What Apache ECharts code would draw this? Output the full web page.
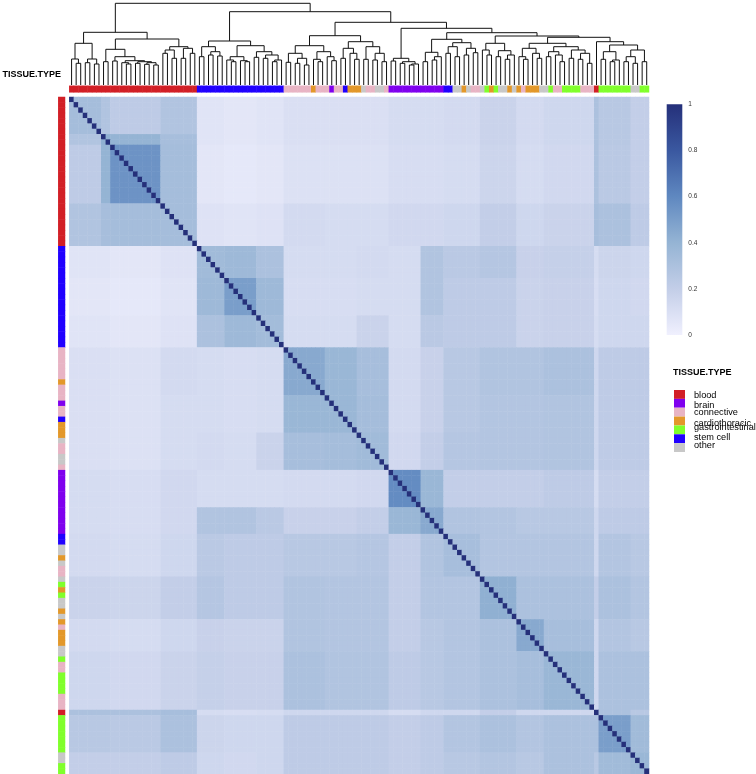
<!DOCTYPE html>
<html><head><meta charset="utf-8">
<script src="https://cdn.jsdelivr.net/npm/echarts@6.0.0/dist/echarts.min.js"></script>
<style>html,body{margin:0;padding:0;background:#fff}#c{width:756px;height:774px}</style>
</head><body><div id="c"></div>
<script>
// ---------------- data ----------------
const tissueTypes = ['blood','brain','connective','cardiothoracic','gastrointestinal','stem cell','other'];
const tissueColors = ['#d21f26','#7f00ee','#e8b4c4','#e3982a','#80ff2b','#2000ff','#c8c8c8'];
// tissue of each sample in clustered order, as runs [tissueIndex, count]
const sampleRuns = [[0,28],[5,19],[2,6],[3,1],[2,3],[1,1],[2,2],[5,1],[3,3],[6,1],[2,2],[6,2],[2,1],
  [1,12],[5,2],[6,2],[3,1],[6,1],[2,2],[6,1],[4,1],[3,1],[4,1],[6,2],[3,1],[6,1],[3,1],[2,1],[3,3],
  [6,2],[4,1],[2,2],[4,4],[2,3],[0,1],[4,7],[6,2],[4,2]];
// cluster blocks (first sample index of each block) and block-level similarity
const blockStarts = [0,7,9,20,28,34,41,47,56,63,70,77,82,90,98,104,115,116,123];
const blockSim = [
 [0.33,0.28,0.22,0.28,0.07,0.06,0.07,0.10,0.10,0.10,0.12,0.12,0.13,0.17,0.13,0.15,0.30,0.25,0.20],
 [0.28,0.42,0.40,0.32,0.07,0.06,0.07,0.10,0.10,0.10,0.12,0.12,0.13,0.17,0.13,0.15,0.30,0.25,0.20],
 [0.22,0.40,0.55,0.33,0.06,0.05,0.06,0.09,0.09,0.09,0.11,0.11,0.12,0.16,0.12,0.14,0.30,0.24,0.20],
 [0.28,0.32,0.33,0.33,0.08,0.07,0.08,0.13,0.12,0.12,0.14,0.14,0.15,0.20,0.15,0.17,0.32,0.30,0.22],
 [0.07,0.07,0.06,0.08,0.35,0.36,0.30,0.12,0.12,0.13,0.12,0.28,0.24,0.26,0.18,0.19,0.12,0.16,0.15],
 [0.06,0.06,0.05,0.07,0.36,0.50,0.36,0.11,0.11,0.12,0.12,0.28,0.22,0.22,0.17,0.18,0.11,0.15,0.14],
 [0.07,0.07,0.06,0.08,0.30,0.36,0.34,0.12,0.12,0.17,0.12,0.24,0.22,0.22,0.17,0.18,0.12,0.15,0.15],
 [0.10,0.10,0.09,0.13,0.12,0.11,0.12,0.45,0.38,0.32,0.13,0.18,0.25,0.28,0.28,0.30,0.15,0.22,0.22],
 [0.10,0.10,0.09,0.12,0.12,0.11,0.12,0.38,0.38,0.33,0.13,0.18,0.25,0.27,0.27,0.28,0.15,0.22,0.22],
 [0.10,0.10,0.09,0.12,0.13,0.12,0.17,0.32,0.33,0.35,0.14,0.20,0.26,0.27,0.27,0.28,0.15,0.22,0.22],
 [0.12,0.12,0.11,0.14,0.12,0.12,0.12,0.13,0.13,0.14,0.58,0.38,0.20,0.20,0.20,0.22,0.12,0.20,0.20],
 [0.12,0.12,0.11,0.14,0.28,0.28,0.24,0.18,0.18,0.20,0.38,0.45,0.28,0.27,0.25,0.25,0.15,0.22,0.22],
 [0.13,0.13,0.12,0.15,0.24,0.22,0.22,0.25,0.25,0.26,0.20,0.28,0.32,0.27,0.27,0.27,0.15,0.27,0.25],
 [0.17,0.17,0.16,0.20,0.26,0.22,0.22,0.28,0.27,0.27,0.20,0.27,0.27,0.42,0.30,0.30,0.20,0.30,0.27],
 [0.13,0.13,0.12,0.15,0.18,0.17,0.17,0.28,0.27,0.27,0.20,0.25,0.27,0.30,0.45,0.32,0.15,0.27,0.25],
 [0.15,0.15,0.14,0.17,0.19,0.18,0.18,0.30,0.28,0.28,0.22,0.25,0.27,0.30,0.32,0.38,0.15,0.30,0.30],
 [0.30,0.30,0.30,0.32,0.12,0.11,0.12,0.15,0.15,0.15,0.12,0.15,0.15,0.20,0.15,0.15,1.00,0.30,0.25],
 [0.25,0.25,0.24,0.30,0.16,0.15,0.15,0.22,0.22,0.22,0.20,0.22,0.27,0.30,0.27,0.30,0.30,0.50,0.35],
 [0.20,0.20,0.20,0.22,0.15,0.14,0.15,0.22,0.22,0.22,0.20,0.22,0.25,0.27,0.25,0.30,0.25,0.35,0.38]
];
const colorTicks = [0,0.2,0.4,0.6,0.8,1];
const colorRamp = ['#f0f0fe','#c3cee8','#95b4d4','#5f88c0','#3a58a0','#25307a'];

// dendrogram: [height, left, right]; leaves are sample indices
const treeBloodA = [41.7,[26,0,[21.7,1,2]],[26,[22.3,3,4],[21,5,6]]];
const treeBloodCore = [28.3,[24,9,10],[24.3,[22.3,11,[21,12,13]],[23.3,[21.7,14,15],[22.3,[20.7,16,17],[20,18,19]]]]];
const treeBloodB = [38.3,[35,[31.7,20,21],[26.7,22,23]],[36.7,[26.7,24,25],[31.7,26,27]]];
const treeStemA = [38.3,[28.3,28,29],[33.3,[30,30,31],[29,32,33]]];
const treeStemB = [28.3,[25,34,[23.3,35,36]],[24.3,37,[23.3,38,39]]];
const treeStemC = [33.3,[27.7,40,41],[30,[26.7,42,43],[25,[23.3,44,45],46]]];
const treeConnA = [31.7,[22.7,47,48],[26.7,[21.7,49,50],[20,51,52]]];
const treeConnB = [33.3,[25.7,53,[23.3,54,55]],[28.3,56,[24.3,57,58]]];
const treeConnC = [43.3,[36.7,[26.7,59,60],[31.7,61,[25.7,62,63]]],[38.3,[25.7,64,65],[31.7,[25,66,67],[23.3,68,69]]]];
const treeBrainA = [26.7,[24,70,71],[23.3,[21.7,72,73],[21,[20,74,75],76]]];
const treeBrainB = [32.7,[23.3,77,78],[28.3,[25,79,80],81]];
const treeMixA = [42.3,[38.3,[31.7,82,83],[28.3,84,85]],[36.7,[30,86,87],[32.3,88,89]]];
const treeMixB = [41.7,[35,90,[30,91,92]],[34.3,[28.3,93,94],[30,[25.7,95,96],97]]];
const treeMixC = [41.7,[36.7,[28.3,98,[25.7,99,100]],[31.7,101,[26.7,102,103]]],
  [38.3,[33.3,[28.3,104,105],[30,106,[23.3,107,108]]],[35,[26.7,109,110],[31.7,[25.7,111,112],[21.7,113,114]]]]];
const treeGastro = [40,[33.3,[25.7,116,117],[25,[23.3,118,119],120]],[35,[28.3,[23.3,121,122],[21.7,123,124]],[23.3,125,126]]];
const tree = [81.7,
  [52.7, treeBloodA, [46,[35.7,[23.3,7,8],treeBloodCore], treeBloodB]],
  [73.3, [44, treeStemA, [39.3, treeStemB, treeStemC]],
    [62.7, [49.3,[39.3,treeConnA,treeConnB],treeConnC],
      [56.7, treeBrainA,
        [52.3, [45.7, treeBrainB, treeMixA],
          [49, treeMixB, [47.7, treeMixC, [43.3, 115, treeGastro]]]]]]]];

// ---------------- build ----------------
const sampleTissue = [];
sampleRuns.forEach(([t, n]) => { for (let k = 0; k < n; k++) sampleTissue.push(t); });
const N = sampleTissue.length;
const idx = sampleTissue.map((_, i) => String(i));
function blockOf(i){ let b = 0; for (let k = 0; k < blockStarts.length; k++) if (i >= blockStarts[k]) b = k; return b; }
const heat = [];
for (let r = 0; r < N; r++) for (let c = 0; c < N; c++)
  heat.push([c, r, r === c ? 1 : blockSim[blockOf(r)][blockOf(c)]]);
const topAnno = sampleTissue.map((t, i) => [i, 0, t]);
const leftAnno = sampleTissue.map((t, i) => [0, i, t]);

const segs = [];
function walk(node){
  if (typeof node === 'number') return {x: node + 0.5, h: 0};
  const L = walk(node[1]), R = walk(node[2]);
  segs.push([L.x, L.h, R.x, R.h, node[0]]);
  return {x: (L.x + R.x) / 2, h: node[0]};
}
walk(tree);

const FONT = '"Liberation Sans", Arial, sans-serif';
const HM = {left: 69.3, top: 97, width: 579.7, height: 677};
const chart = echarts.init(document.getElementById('c'), null, {renderer: 'canvas'});

const legendTop = 390, swatchH = 8.86;
const legendLabelDy = [1, 2, 0, 2, -2, -1, -2];
const legendGraphics = [
  {type:'text', left: 673, top: 368, style:{text:'TISSUE.TYPE', font:'bold 9px ' + FONT, fill:'#000'}},
  {type:'text', x: 61, y: 75, style:{text:'TISSUE.TYPE', font:'bold 9px ' + FONT, fill:'#000', align:'right', verticalAlign:'middle'}}
];
tissueTypes.forEach((t, i) => {
  legendGraphics.push({type:'rect', shape:{x:674, y:legendTop + i*swatchH, width:11, height:swatchH},
    style:{fill: tissueColors[i]}});
  legendGraphics.push({type:'text', x:694, y:legendTop + (i+0.5)*swatchH + legendLabelDy[i],
    style:{text:t, font:'9.2px ' + FONT, fill:'#000', verticalAlign:'middle'}});
});

chart.setOption({
  animation: false,
  backgroundColor: '#fff',
  grid: [
    Object.assign({}, HM, {outerBoundsMode:'none'}),
    {left: HM.left, top: 0, width: HM.width, height: 85, outerBoundsMode:'none'},
    {left: HM.left, top: 85.8, width: HM.width, height: 6.5, outerBoundsMode:'none'},
    {left: 58.3, top: HM.top, width: 6.7, height: HM.height, outerBoundsMode:'none'},
    {left: 666.7, top: 104.3, width: 15.6, height: 230.7, outerBoundsMode:'none'}
  ],
  xAxis: [
    {gridIndex:0, type:'category', data: idx, show:false},
    {gridIndex:1, type:'value', min:0, max:N, show:false},
    {gridIndex:2, type:'category', data: idx, show:false},
    {gridIndex:3, type:'category', data: ['TISSUE.TYPE'], show:false},
    {gridIndex:4, type:'value', min:0, max:1, show:false}
  ],
  yAxis: [
    {gridIndex:0, type:'category', data: idx, inverse:true, show:false},
    {gridIndex:1, type:'value', min:0, max:85, show:false},
    {gridIndex:2, type:'category', data: ['TISSUE.TYPE'], show:false},
    {gridIndex:3, type:'category', data: idx, inverse:true, show:false},
    {gridIndex:4, type:'value', min:0, max:1, interval:0.2, position:'right',
      axisLine:{show:false}, axisTick:{show:false}, splitLine:{show:false},
      axisLabel:{fontSize:6.5, color:'#333', fontFamily:FONT, margin:6}}
  ],
  visualMap: [
    {type:'continuous', show:false, min:0, max:1, dimension:2, seriesIndex:0, inRange:{color: colorRamp}},
    {type:'piecewise', show:false, dimension:2, seriesIndex:[2,3],
      pieces: tissueColors.map((c, i) => ({value:i, color:c}))}
  ],
  series: [
    {type:'heatmap', xAxisIndex:0, yAxisIndex:0, data: heat, progressive:0, itemStyle:{borderWidth:0}, emphasis:{disabled:true}},
    {type:'custom', xAxisIndex:1, yAxisIndex:1, data: segs, silent:true,
      renderItem(params, api){
        const a = api.coord([api.value(0), api.value(1)]);
        const b = api.coord([api.value(0), api.value(4)]);
        const c = api.coord([api.value(2), api.value(4)]);
        const d = api.coord([api.value(2), api.value(3)]);
        return {type:'polyline', shape:{points:[a,b,c,d]}, style:{stroke:'#111', lineWidth:1, fill:null}};
      }},
    {type:'heatmap', xAxisIndex:2, yAxisIndex:2, data: topAnno, progressive:0, silent:true, emphasis:{disabled:true}},
    {type:'heatmap', xAxisIndex:3, yAxisIndex:3, data: leftAnno, progressive:0, silent:true, emphasis:{disabled:true}},
    {type:'custom', xAxisIndex:4, yAxisIndex:4, data:[[0,0]], silent:true,
      renderItem(params, api){
        const p0 = api.coord([0,1]), p1 = api.coord([1,0]);
        return {type:'rect', shape:{x:p0[0], y:p0[1], width:p1[0]-p0[0], height:p1[1]-p0[1]},
          style:{fill:{type:'linear', x:0, y:0, x2:0, y2:1,
            colorStops: colorTicks.map((t, i) => ({offset: 1 - t, color: colorRamp[i]})).reverse()}}};
      }}
  ],
  graphic: legendGraphics
});
</script></body></html>
